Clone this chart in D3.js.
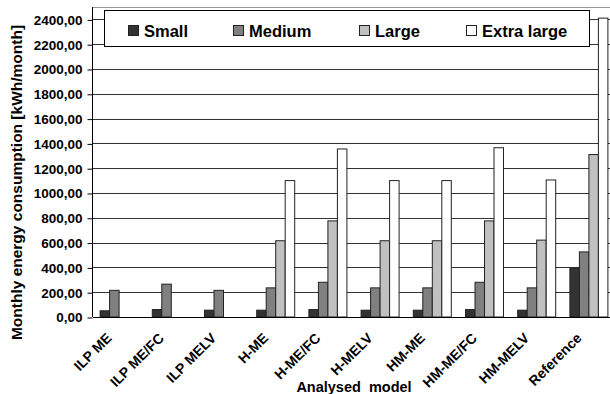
<!DOCTYPE html>
<html><head><meta charset="utf-8">
<script src="https://cdn.jsdelivr.net/npm/d3@7/dist/d3.min.js"></script>
<style>body{margin:0;background:#fff;}text{font-family:"Liberation Sans",Arial,sans-serif;font-weight:bold;fill:#000;}</style>
</head><body><svg id="c" width="610" height="394"></svg>
<script>
const categories = ["ILP ME","ILP ME/FC","ILP MELV","H-ME","H-ME/FC","H-MELV","HM-ME","HM-ME/FC","HM-MELV","Reference"];
const seriesNames = ["Small","Medium","Large","Extra large"];
const small      = [50, 60, 55, 55, 60, 55, 55, 60, 55, 395];
const medium     = [215, 265, 215, 235, 280, 235, 235, 280, 235, 525];
const large      = [null, null, null, 615, 775, 615, 615, 775, 620, 1310];
const extraLarge = [null, null, null, 1100, 1355, 1100, 1100, 1365, 1105, 2410];
const yTicks = [0,200,400,600,800,1000,1200,1400,1600,1800,2000,2200,2400];
const colors = ["#333333","#808080","#c0c0c0","#ffffff"];

const seriesValues = [small, medium, large, extraLarge];
const svg = d3.select("#c");
const pLeft = 93, pRight = 615, pTop = 7, pBottom = 317;

const x = d3.scaleBand().domain(categories).range([pLeft, pRight]).paddingInner(0).paddingOuter(0);
const x1 = d3.scaleBand().domain(seriesNames).range([7.1, x.bandwidth() - 7.1]).padding(0);
const y = d3.scaleLinear().domain([0, 2500]).range([pBottom, pTop]);

// plot border top
svg.append("line").attr("x1", pLeft).attr("x2", 610).attr("y1", pTop + 0.5).attr("y2", pTop + 0.5)
  .attr("stroke", "#999").attr("stroke-width", 1);

// gridlines
svg.append("g").selectAll("line").data(yTicks.filter(d => d > 0)).join("line")
  .attr("x1", pLeft).attr("x2", 610)
  .attr("y1", d => Math.round(y(d)) + 0.5).attr("y2", d => Math.round(y(d)) + 0.5)
  .attr("stroke", "#333").attr("stroke-width", 1);

// y axis
const yAxis = d3.axisLeft(y).tickValues(yTicks).tickSize(5).tickPadding(5)
  .tickFormat(d => d3.format(".2f")(d).replace(".", ","));
const ya = svg.append("g").attr("transform", `translate(${pLeft - 0.5},0.5)`).call(yAxis);
ya.select(".domain").remove();
svg.append("line").attr("x1", pLeft - 0.5).attr("x2", pLeft - 0.5).attr("y1", pTop).attr("y2", pBottom)
  .attr("stroke", "#000");
ya.selectAll(".tick line").attr("stroke", "#000");
ya.selectAll(".tick text").style("font-size", "13.5px").style("font-weight", "bold")
  .style("font-family", '"Liberation Sans",Arial,sans-serif').attr("fill", "#000");

// bars
const groups = svg.append("g").selectAll("g").data(categories).join("g")
  .attr("transform", d => `translate(${x(d)},0)`);
groups.selectAll("rect")
  .data((d, i) => seriesNames.map((s, j) => ({s, v: seriesValues[j][i], c: colors[j]})).filter(o => o.v != null))
  .join("rect")
  .attr("x", d => x1(d.s))
  .attr("width", x1.bandwidth())
  .attr("y", d => y(d.v))
  .attr("height", d => y(0) - y(d.v))
  .attr("fill", d => d.c)
  .attr("stroke", "#222").attr("stroke-width", 1);

// x axis line
svg.append("line").attr("x1", pLeft).attr("x2", 610).attr("y1", pBottom + 0.5).attr("y2", pBottom + 0.5)
  .attr("stroke", "#000");

// x labels
svg.append("g").selectAll("text").data(categories).join("text")
  .attr("transform", d => `translate(${x(d) + x.bandwidth() / 2 - 6.5},${pBottom + 22}) rotate(-45)`)
  .attr("text-anchor", "end")
  .style("font-size", "14px")
  .text(d => d);

// axis titles
svg.append("text").attr("transform", `translate(21.5,182.5) rotate(-90)`).attr("text-anchor", "middle")
  .style("font-size", "15.5px").text("Monthly energy consumption [kWh/month]");
svg.append("text").attr("x", 354).attr("y", 392).attr("text-anchor", "middle")
  .style("font-size", "14.5px").style("white-space", "pre").text("Analysed  model");

// legend
const lg = svg.append("g");
lg.append("rect").attr("x", 104.5).attr("y", 10.5).attr("width", 485).attr("height", 36)
  .attr("fill", "#fff").attr("stroke", "#000");
const legX = [128, 233, 359, 466];
seriesNames.forEach((s, j) => {
  lg.append("rect").attr("x", legX[j] + 0.5).attr("y", 25.5).attr("width", 10).attr("height", 10)
    .attr("fill", colors[j]).attr("stroke", "#222");
  lg.append("text").attr("x", legX[j] + 16).attr("y", 37).style("font-size", "16.5px").text(s);
});
</script></body></html>
